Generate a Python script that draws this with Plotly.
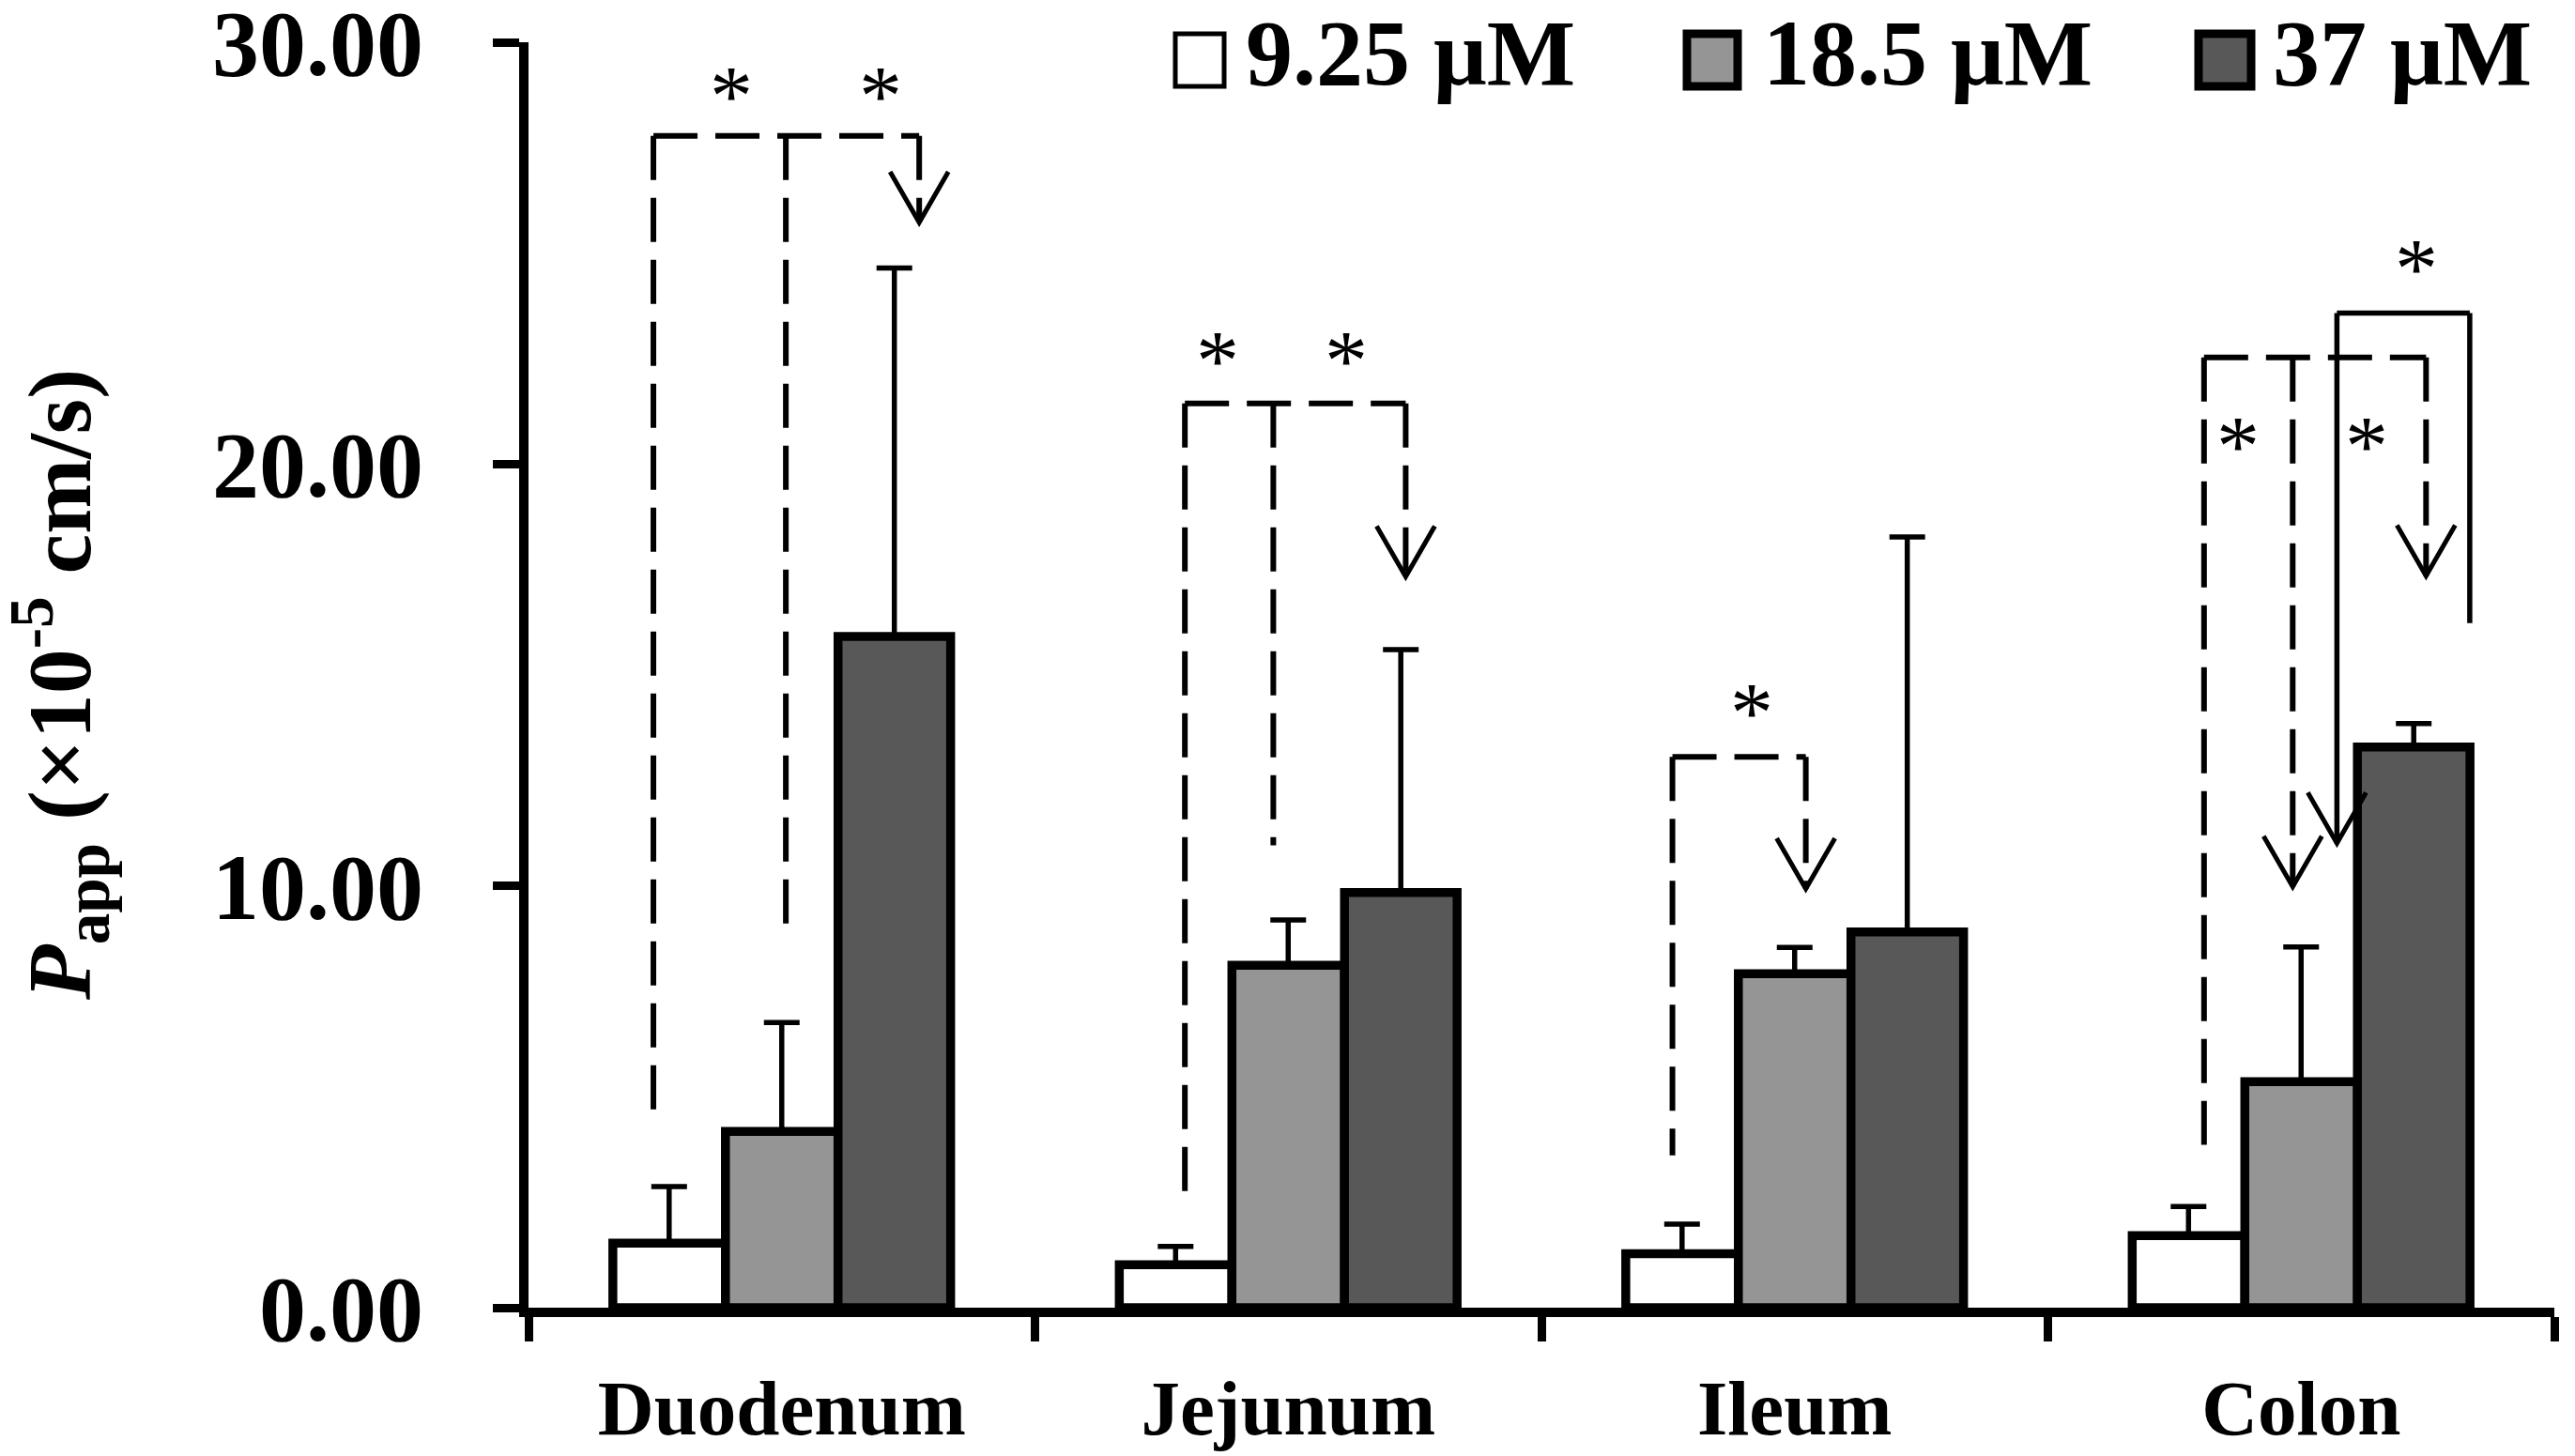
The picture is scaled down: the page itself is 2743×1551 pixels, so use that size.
import plotly.graph_objects as go

# ---------------- data ----------------
categories = ["Duodenum", "Jejunum", "Ileum", "Colon"]
series_names = ["9.25 μM", "18.5 μM", "37 μM"]
low_mean = [1.53, 1.02, 1.28, 1.71]
low_sd = [1.34, 0.43, 0.70, 0.69]
mid_mean = [4.18, 8.12, 7.92, 5.36]
mid_sd = [2.58, 1.07, 0.62, 3.19]
high_mean = [15.91, 9.84, 8.91, 13.29]
high_sd = [8.74, 5.76, 9.36, 0.56]
y_ticks = [0, 10, 20, 30]

# ---------------- styles ----------------
FONT = "Liberation Serif"
fills = ["#FFFFFF", "#959595", "#585858"]
means = [low_mean, mid_mean, high_mean]
sds = [low_sd, mid_sd, high_sd]

OFF = 8                      # default page body margin
W, H = 2743 - OFF, 1551 - OFF
ML, MT = 563 - OFF, 45 - OFF
MR = W - (2721 - OFF)
MB = H - (1393 - OFF)

fig = go.Figure()
for name, m, s, c in zip(series_names, means, sds, fills):
    fig.add_trace(go.Bar(
        x=categories, y=m, name=name,
        marker=dict(color=c, line=dict(color="black", width=9.5)),
        error_y=dict(type="data", symmetric=False, array=s,
                     arrayminus=[0] * len(s), color="black",
                     thickness=5.5, width=19),
        showlegend=False,
    ))

# ---------------- significance brackets (annotation layout) ----------------
DASH = "47px,19px"
LW = 6
ARW_HW = 0.0575   # arrow half width (category units)
ARW_H = 1.2       # arrow height (data units)

shapes = []

def seg(x0, y0, x1, y1, dash=True, width=LW):
    shapes.append(dict(type="line", xref="x", yref="y", x0=x0, y0=y0, x1=x1, y1=y1,
                       line=dict(color="black", width=width, dash=DASH if dash else "solid"),
                       layer="above"))

def arrow(x, ytip):
    shapes.append(dict(type="path", xref="x", yref="y",
                       path=f"M {x-ARW_HW},{ytip+ARW_H} L {x},{ytip} L {x+ARW_HW},{ytip+ARW_H}",
                       line=dict(color="black", width=5), layer="above"))

# Duodenum
seg(-0.2534, 27.78, 0.2714, 27.78)
seg(-0.2534, 27.78, -0.2534, 4.64)
seg(0.0081, 27.78, 0.0081, 9.02)
seg(0.2714, 27.78, 0.2714, 25.73)
arrow(0.2714, 25.73)
# Jejunum
seg(0.796, 21.44, 1.232, 21.44)
seg(0.796, 21.44, 0.796, 2.49)
seg(0.9706, 21.44, 0.9706, 10.96)
seg(1.232, 21.44, 1.232, 17.33)
arrow(1.232, 17.33)
# Ileum
seg(1.7587, 13.06, 2.022, 13.06)
seg(1.7587, 13.06, 1.7587, 3.61)
seg(2.022, 13.06, 2.022, 9.93)
arrow(2.022, 9.93)
# Colon dashed
seg(2.8083, 22.53, 3.2467, 22.53)
seg(2.8083, 22.53, 2.8083, 3.86)
seg(2.9834, 22.53, 2.9834, 9.98)
arrow(2.9834, 9.98)
seg(3.2467, 22.53, 3.2467, 17.35)
arrow(3.2467, 17.35)
# Colon solid
seg(3.0707, 23.58, 3.333, 23.58, dash=False, width=5.5)
seg(3.0707, 23.58, 3.0707, 11.01, dash=False, width=5.5)
arrow(3.0707, 11.01)
seg(3.333, 23.58, 3.333, 16.23, dash=False, width=5.5)

stars = [(-0.0994, 28.87), (0.1954, 28.87), (0.861, 22.6), (1.115, 22.6),
         (1.9145, 14.25), (3.2276, 24.77), (2.876, 20.56), (3.1297, 20.56)]

annotations = []
for sx, sy in stars:
    annotations.append(dict(x=sx, y=sy, xref="x", yref="y", text="*", showarrow=False,
                            font=dict(family=FONT, size=92, color="black"),
                            xanchor="center", yanchor="middle", yshift=-6))

# ---------------- manual legend ----------------
pw = W - ML - MR
ph = H - MT - MB
def px2paper_x(px):          # px measured on the 2743x1551 screenshot
    return (px - OFF - ML) / pw
def px2paper_y(py):
    return (H - MB - (py - OFF)) / ph

leg_boxes = [(1252, 1304), (1797, 1851), (2342, 2398)]
leg_text_x = [1325, 1876, 2419]
leg_border = [5, 9, 9]
for (bx0, bx1), tx, c, lw, name in zip(leg_boxes, leg_text_x, fills, leg_border, series_names):
    shapes.append(dict(type="rect", xref="paper", yref="paper",
                       x0=px2paper_x(bx0), x1=px2paper_x(bx1),
                       y0=px2paper_y(92), y1=px2paper_y(36),
                       fillcolor=c, line=dict(color="black", width=lw), layer="above"))
    annotations.append(dict(x=px2paper_x(tx), y=px2paper_y(57), xref="paper", yref="paper",
                            text=name, showarrow=False, xanchor="left", yanchor="middle",
                            font=dict(family=FONT, size=100, color="black", weight="bold")))

# y-axis title
annotations.append(dict(x=px2paper_x(64), y=px2paper_y(730), xref="paper", yref="paper",
                        text="<i>P</i><sub>app</sub> (×10<sup>-5</sup> cm/s)",
                        textangle=-90, showarrow=False, xanchor="center", yanchor="middle",
                        font=dict(family=FONT, size=96, color="black", weight="bold")))

fig.update_layout(
    width=W, height=H, autosize=False,
    margin=dict(l=ML, r=MR, t=MT, b=MB, pad=0, autoexpand=False),
    paper_bgcolor="white", plot_bgcolor="white",
    barmode="group", bargap=0.333, bargroupgap=0,
    shapes=shapes, annotations=annotations,
    showlegend=False,
    xaxis=dict(type="category", range=[-0.5, 3.5], showline=True, linecolor="black",
               linewidth=10, ticks="outside", tickson="boundaries", ticklen=26,
               tickwidth=9, tickcolor="black", showgrid=False, zeroline=False,
               tickfont=dict(family=FONT, size=83, color="black", weight="bold"),
               ticklabelstandoff=25, automargin=False),
    yaxis=dict(range=[0, 30], tickvals=y_ticks, tickformat=".2f", showline=True,
               linecolor="black", linewidth=10, ticks="outside", ticklen=28, tickwidth=9,
               tickcolor="black", showgrid=False, zeroline=False,
               tickfont=dict(family=FONT, size=100, color="black", weight="bold"),
               ticklabelstandoff=54, ticklabeloverflow="allow", automargin=False),
)

fig.write_html("out.html")
